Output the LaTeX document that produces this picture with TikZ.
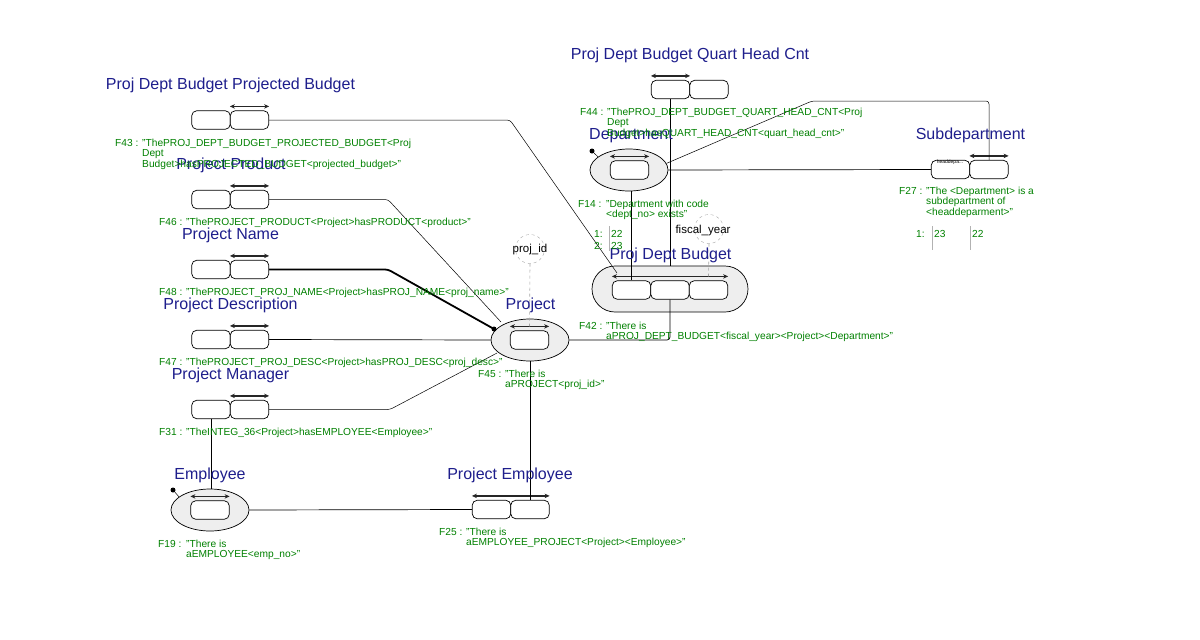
\documentclass[tikz,border=0pt]{standalone}
\usepackage{fontspec}
\setmainfont{Liberation Sans}
\usetikzlibrary{shapes.geometric,arrows.meta,calc}
\definecolor{lblue}{RGB}{30,30,140}
\definecolor{fgreen}{RGB}{0,128,0}
\definecolor{efill}{RGB}{238,238,238}
\newcommand\gtxt{\fontsize{10.2}{10.6}\selectfont}
\newcommand\ubar[2]{\draw[ubar] ([yshift=4pt]#1.north west) -- ([yshift=4pt]#2.north east);}
\begin{document}
\begin{tikzpicture}[x=1pt,y=-1pt,
  role/.style={draw, rounded corners=5pt, minimum width=38.5pt, minimum height=18.5pt, inner sep=0pt, fill=white, line width=0.7pt},
  entity/.style={draw, ellipse, fill=efill, minimum width=78pt, minimum height=42pt, inner sep=0pt, line width=0.7pt},
  ubar/.style={{Stealth[length=5pt,width=4.5pt]}-{Stealth[length=5pt,width=4.5pt]}, line width=1.4pt, draw=black!85},
  lbl/.style={anchor=base, text=lblue, font=\fontsize{16}{18}\selectfont, inner sep=0pt},
  ftext/.style={anchor=base west, text=fgreen, font=\gtxt, inner sep=0pt},
  conn/.style={draw, line width=0.7pt, rounded corners=3pt},
  thinc/.style={draw, line width=0.5pt, rounded corners=3pt},
  refc/.style={draw=gray!70, dashed, circle, minimum size=29pt, inner sep=0pt},
  refl/.style={draw=gray!70, dashed, line width=0.6pt},
  dotn/.style={circle, fill=black, minimum size=5pt, inner sep=0pt},
  popl/.style={draw=gray!60, line width=0.6pt},
  reft/.style={font=\fontsize{11.5}{13}\selectfont, inner sep=0pt}
]
\useasboundingbox (0,0) rectangle (1200,640);

% ---------- entities ----------
\node[entity] (proj) at (530,340) {};
\node[role] (projb) at (529.5,340) {};
\node[entity] (dept) at (629,170) {};
\node[role] (deptb) at (629.5,170) {};
\node[entity] (emp) at (210,510) {};
\node[role] (empb) at (210,510) {};
\node[draw, fill=efill, rounded corners=23pt, minimum width=156pt, minimum height=46pt, inner sep=0pt, line width=0.7pt] (pdb) at (670,289) {};

% ---------- role boxes ----------
\node[role] (f43a) at (211,120) {};
\node[role] (f43b) at (249.5,120) {};
\node[role] (f46a) at (211,199.5) {};
\node[role] (f46b) at (249.5,199.5) {};
\node[role] (f48a) at (211,269.5) {};
\node[role] (f48b) at (249.5,269.5) {};
\node[role] (f47a) at (211,339.5) {};
\node[role] (f47b) at (249.5,339.5) {};
\node[role] (f31a) at (211,409.5) {};
\node[role] (f31b) at (249.5,409.5) {};
\node[role] (f25a) at (491.5,509.5) {};
\node[role] (f25b) at (530,509.5) {};
\node[role] (f44a) at (670.5,89.5) {};
\node[role] (f44b) at (709,89.5) {};
\node[role] (f27a) at (950.5,169.5) {};
\node[role] (f27b) at (989,169.5) {};
\node[role] (pdb1) at (631.5,290) {};
\node[role] (pdb2) at (670,290) {};
\node[role] (pdb3) at (708.5,290) {};
\node[font=\fontsize{5}{5}\selectfont, inner sep=0pt] (hd) at (950,162.5) {headdepa...};

% ---------- uniqueness bars ----------
\ubar{f43b}{f43b}
\ubar{f46b}{f46b}
\ubar{f48b}{f48b}
\ubar{f47b}{f47b}
\ubar{f31b}{f31b}
\ubar{f25a}{f25b}
\ubar{f44a}{f44a}
\ubar{f27b}{f27b}
\ubar{pdb1}{pdb3}
\ubar{projb}{projb}
\ubar{deptb}{deptb}
\ubar{empb}{empb}

% ---------- reference modes ----------
\node[refc] (rpid) at (530,249) {};
\node[reft] (tpid) at (530,250) {proj\_id};
\node[refc] (rfy) at (709,229) {};
\node[reft] (tfy) at (703,231) {fiscal\_year};
\draw[refl] (rpid.south) -- ([yshift=4pt]projb.north);
\draw[refl] (rfy.south) -- ([yshift=4pt]pdb3.north);

% ---------- dots ----------
\node[dotn] (dproj) at (494,329) {};
\node[dotn] (ddept) at (592,151) {};
\node[dotn] (demp) at (173,490) {};
\draw[line width=0.5pt] (ddept) -- (dept.157);
\draw[line width=0.5pt] (demp) -- (emp.157);

% ---------- connectors ----------
\coordinate (c43) at (510,120);
\coordinate (e43) at (617,273);
\draw[thinc] (f43b.east) -- (c43) -- (e43);
\coordinate (c46) at (388,199.5);
\coordinate (e46) at (501,322);
\draw[thinc] (f46b.east) -- (c46) -- (e46);
\coordinate (c48) at (388,269.5);
\draw[draw, line width=1.8pt, rounded corners=3pt] (f48b.east) -- (c48) -- (dproj.center);
\draw[conn] (f47b.east) -- (proj.west);
\coordinate (c31) at (390,409.5);
\coordinate (e31) at (497,353);
\draw[thinc] (f31b.east) -- (c31) -- (e31);
\draw[conn] (f31a.south) -- (f31a.south |- emp.north);
\draw[conn] (emp.east) -- (f25a.west);
\draw[conn] (proj.south) -- (f25b.north);
\coordinate (c42) at (670,340);
\draw[conn] (proj.east) -- (c42) -- (pdb2.south);
\draw[conn] (pdb1.north |- dept.south) -- (pdb1.north);
\draw[conn] (f44a.south) -- (f44a.south |- pdb.north);
\draw[conn] (dept.east) -- (f27a.west);
\coordinate (c27a) at (812,101);
\coordinate (c27b) at (989,101);
\draw[thinc] (dept.10) -- (c27a) -- (c27b) -- (f27b.north);

% ---------- labels ----------
\node[lbl] (l43) at (230.5,89) {Proj Dept Budget Projected Budget};
\node[lbl] (l46) at (231,169) {Project Product};
\node[lbl] (l48) at (230.5,239) {Project Name};
\node[lbl] (l47) at (230.5,309) {Project Description};
\node[lbl] (l31) at (230.5,379) {Project Manager};
\node[lbl] (lemp) at (210,479) {Employee};
\node[lbl] (l25) at (510,479) {Project Employee};
\node[lbl] (lproj) at (530.5,309) {Project};
\node[lbl] (lpdb) at (670.5,259) {Proj Dept Budget};
\node[lbl] (ldept) at (631,139) {Department};
\node[lbl] (l44) at (690,59) {Proj Dept Budget Quart Head Cnt};
\node[lbl] (l27) at (970.5,139) {Subdepartment};

% ---------- fact texts ----------
\node[ftext] (t43) at (115,146) {\begin{tabular}[t]{@{}l@{}l@{}}\makebox[27pt][l]{F43 :}&"ThePROJ\_DEPT\_BUDGET\_PROJECTED\_BUDGET<Proj\\&Dept\\&Budget>hasPROJECTED\_BUDGET<projected\_budget>"\end{tabular}};
\node[ftext] (t46) at (159,225) {\begin{tabular}[t]{@{}l@{}l@{}}\makebox[27pt][l]{F46 :}&"ThePROJECT\_PRODUCT<Project>hasPRODUCT<product>"\end{tabular}};
\node[ftext] (t48) at (159,295) {\begin{tabular}[t]{@{}l@{}l@{}}\makebox[27pt][l]{F48 :}&"ThePROJECT\_PROJ\_NAME<Project>hasPROJ\_NAME<proj\_name>"\end{tabular}};
\node[ftext] (t47) at (159,365) {\begin{tabular}[t]{@{}l@{}l@{}}\makebox[27pt][l]{F47 :}&"ThePROJECT\_PROJ\_DESC<Project>hasPROJ\_DESC<proj\_desc>"\end{tabular}};
\node[ftext] (t31) at (159,435) {\begin{tabular}[t]{@{}l@{}l@{}}\makebox[27pt][l]{F31 :}&"TheINTEG\_36<Project>hasEMPLOYEE<Employee>"\end{tabular}};
\node[ftext] (t19) at (158,547) {\begin{tabular}[t]{@{}l@{}l@{}}\makebox[28pt][l]{F19 :}&"There is\\&aEMPLOYEE<emp\_no>"\end{tabular}};
\node[ftext] (t25) at (439,535) {\begin{tabular}[t]{@{}l@{}l@{}}\makebox[27pt][l]{F25 :}&"There is\\&aEMPLOYEE\_PROJECT<Project><Employee>"\end{tabular}};
\node[ftext] (t45) at (478,377) {\begin{tabular}[t]{@{}l@{}l@{}}\makebox[27pt][l]{F45 :}&"There is\\&aPROJECT<proj\_id>"\end{tabular}};
\node[ftext] (t42) at (579,329) {\begin{tabular}[t]{@{}l@{}l@{}}\makebox[27pt][l]{F42 :}&"There is\\&aPROJ\_DEPT\_BUDGET<fiscal\_year><Project><Department>"\end{tabular}};
\node[ftext] (t14) at (578,207) {\begin{tabular}[t]{@{}l@{}l@{}}\makebox[28pt][l]{F14 :}&"Department with code\\&<dept\_no> exists"\end{tabular}};
\node[ftext] (t44) at (580,115) {\begin{tabular}[t]{@{}l@{}l@{}}\makebox[27pt][l]{F44 :}&"ThePROJ\_DEPT\_BUDGET\_QUART\_HEAD\_CNT<Proj\\&Dept\\&Budget>hasQUART\_HEAD\_CNT<quart\_head\_cnt>"\end{tabular}};
\node[ftext] (t27) at (899,194) {\begin{tabular}[t]{@{}l@{}l@{}}\makebox[27pt][l]{F27 :}&"The <Department> is a\\&subdepartment of\\&<headdeparment>"\end{tabular}};

% ---------- populations ----------
\node[ftext] (p14n1) at (594,237) {1:};
\node[ftext] (p14v1) at (611,237) {22};
\node[ftext] (p14n2) at (594,249) {2:};
\node[ftext] (p14v2) at (611,249) {23};
\coordinate (p14t) at (609,226);
\coordinate (p14b) at (609,251);
\draw[popl] (p14t) -- (p14b);
\node[ftext] (p27n1) at (916,237) {1:};
\node[ftext] (p27v1) at (934,237) {23};
\node[ftext] (p27v2) at (972,237) {22};
\coordinate (p27t1) at (932,226);
\coordinate (p27b1) at (932,250);
\coordinate (p27t2) at (970,226);
\coordinate (p27b2) at (970,250);
\draw[popl] (p27t1) -- (p27b1);
\draw[popl] (p27t2) -- (p27b2);
\end{tikzpicture}
\end{document}
